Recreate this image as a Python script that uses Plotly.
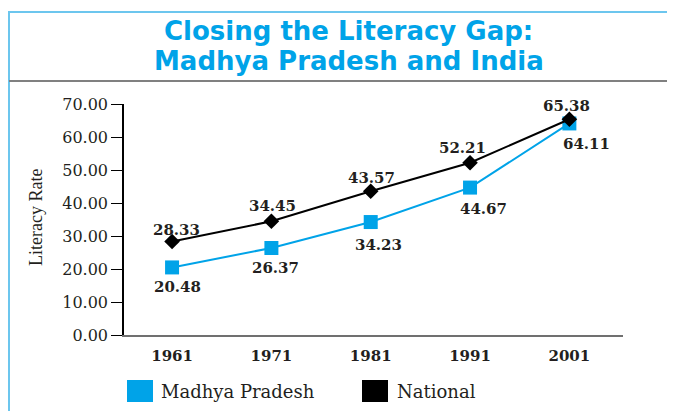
import plotly.graph_objects as go

years = [1961, 1971, 1981, 1991, 2001]
madhya_pradesh = [20.48, 26.37, 34.23, 44.67, 64.11]
national = [28.33, 34.45, 43.57, 52.21, 65.38]
y_ticks = [0, 10, 20, 30, 40, 50, 60, 70]
y_tick_labels = ["%.2f" % v for v in y_ticks]

MP_COLOR = "#00A3E8"
TXT = "#231f20"

# label offsets (pixels) for data labels
nat_shift = [(4, 12), (1, 15), (1, 13), (-8, 15), (-3, 13)]
mp_shift = [(5, -20), (4, -20), (8, -23), (13, -21), (17, -21)]

# the page places the figure 8px from the top-left corner
OFF = 8
FW, FH = 675 - OFF, 411 - OFF

fig = go.Figure()
fig.add_trace(go.Scatter(
    x=years, y=madhya_pradesh, mode="lines+markers", name="Madhya Pradesh",
    line=dict(color=MP_COLOR, width=2),
    marker=dict(symbol="square", size=14, color=MP_COLOR),
    showlegend=False, cliponaxis=False))
fig.add_trace(go.Scatter(
    x=years, y=national, mode="lines+markers", name="National",
    line=dict(color="black", width=2),
    marker=dict(symbol="diamond", size=12, color="black"),
    showlegend=False, cliponaxis=False))

annotations = []
lab_font = dict(family="DejaVu Serif", size=15, color=TXT, weight="bold")
for i, yr in enumerate(years):
    annotations.append(dict(x=yr, y=national[i], xref="x", yref="y",
                            text="%.2f" % national[i], showarrow=False,
                            xshift=nat_shift[i][0], yshift=nat_shift[i][1],
                            font=lab_font))
    annotations.append(dict(x=yr, y=madhya_pradesh[i], xref="x", yref="y",
                            text="%.2f" % madhya_pradesh[i], showarrow=False,
                            xshift=mp_shift[i][0], yshift=mp_shift[i][1],
                            font=lab_font))

# plot area pixel geometry (page coordinates)
L, R, T, B = 124, 623, 104, 335
W, H = R - L, B - T
def px(x):
    return (x - L) / W
def py(y):
    return (B - y) / H

# y-axis title
annotations.append(dict(x=px(36), y=py(218), xref="paper", yref="paper",
                        text="Literacy Rate", textangle=-90, showarrow=False,
                        xanchor="center", yanchor="middle",
                        font=dict(family="Liberation Serif", size=18, color=TXT)))

# legend
leg_font = dict(family="DejaVu Serif", size=18, color=TXT)
annotations.append(dict(x=px(159), y=py(391), xref="paper", yref="paper",
                        text="Madhya Pradesh", showarrow=False, xanchor="left",
                        yanchor="middle", font=leg_font))
annotations.append(dict(x=px(395), y=py(391), xref="paper", yref="paper",
                        text="National", showarrow=False, xanchor="left",
                        yanchor="middle", font=leg_font))

# title (two lines)
title_font = dict(family="DejaVu Sans", size=26, color="#00A3E8", weight="bold")
annotations.append(dict(x=px(348), y=py(31), xref="paper", yref="paper",
                        text="Closing the Literacy Gap:", showarrow=False,
                        xanchor="center", yanchor="middle", font=title_font))
annotations.append(dict(x=px(349), y=py(61), xref="paper", yref="paper",
                        text="Madhya Pradesh and India", showarrow=False,
                        xanchor="center", yanchor="middle", font=title_font))

shapes = [
    dict(type="rect", xref="paper", yref="paper", x0=px(127), x1=px(153),
         y0=py(402), y1=py(380), fillcolor=MP_COLOR, line=dict(width=0)),
    dict(type="rect", xref="paper", yref="paper", x0=px(362), x1=px(388),
         y0=py(402), y1=py(380), fillcolor="black", line=dict(width=0)),
    # frame
    dict(type="line", xref="paper", yref="paper", x0=px(9), x1=px(9),
         y0=py(12), y1=py(415), line=dict(color="#6CC6EE", width=2)),
    dict(type="line", xref="paper", yref="paper", x0=px(8), x1=px(680),
         y0=py(12), y1=py(12), line=dict(color="#6CC6EE", width=2)),
    dict(type="line", xref="paper", yref="paper", x0=px(9), x1=px(680),
         y0=py(81), y1=py(81), line=dict(color="#808080", width=2)),
]

fig.update_layout(
    width=FW, height=FH,
    margin=dict(l=L - OFF, r=675 - R, t=T - OFF, b=411 - B, pad=0),
    paper_bgcolor="white", plot_bgcolor="white",
    xaxis=dict(range=[1956.16, 2006.4], tickvals=years,
               ticktext=[str(y) for y in years], showgrid=False, zeroline=False,
               showline=True, linecolor="#707070", linewidth=2,
               ticks="outside", ticklen=6, tickcolor="rgba(0,0,0,0)",
               tickfont=dict(family="DejaVu Serif", size=15, color=TXT,
                             weight="bold")),
    yaxis=dict(range=[0, 70], tickvals=y_ticks, ticktext=y_tick_labels,
               showgrid=False, zeroline=False, showline=True,
               linecolor="black", linewidth=1.5, ticks="outside", ticklen=11,
               tickcolor="black", tickwidth=1.2,
               tickfont=dict(family="DejaVu Serif", size=16, color=TXT)),
    annotations=annotations, shapes=shapes, showlegend=False,
)

fig.write_html("out.html")
